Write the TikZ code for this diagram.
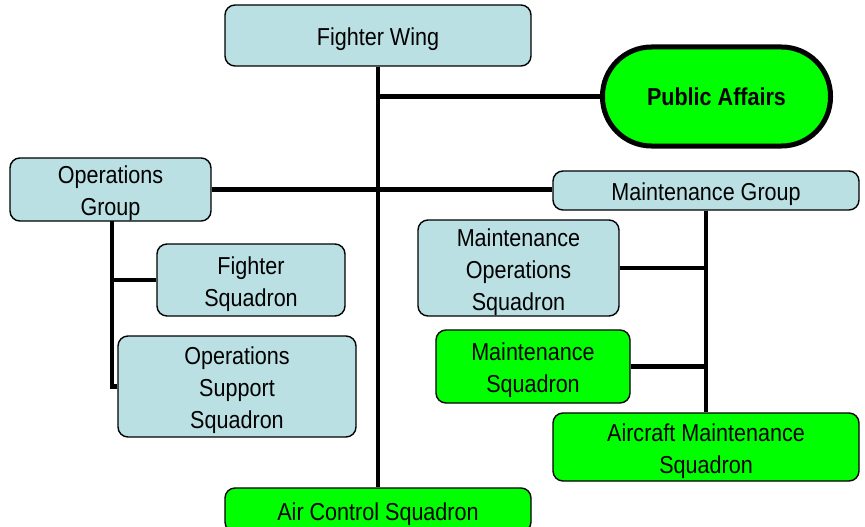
\documentclass[tikz,border=0pt]{standalone}
\usepackage{fontspec}
\setmainfont{Liberation Sans}[FakeStretch=0.88]
\definecolor{boxblue}{HTML}{BBE0E3}
\definecolor{boxgreen}{HTML}{00FF00}
\newcommand\topstrut{\rule{0pt}{26pt}}
\begin{document}
\begin{tikzpicture}[x=1pt,y=-1pt,
  box/.style={draw=black, line width=1.4pt, rounded corners=10pt, fill=boxblue,
    align=center, inner sep=0pt, font=\fontsize{24.5}{32}\selectfont},
  gbox/.style={box, fill=boxgreen},
  link/.style={line width=4.5pt, black}]
\useasboundingbox (0,0) rectangle (865,527);
\clip (0,0) rectangle (865,527);
\node[box, minimum width=306pt, minimum height=61pt] (fw) at (378,35.5) {\topstrut Fighter Wing};
\node[draw=black, line width=5pt, fill=boxgreen, rounded corners=49pt, minimum width=228pt, minimum height=99pt,
  inner sep=0pt, font=\fontsize{24.5}{32}\selectfont\bfseries] (pa) at (716.5,96.5) {Public Affairs};
\node[box, minimum width=201pt, minimum height=63pt] (og) at (110.5,189.5) {\topstrut Operations\\Group};
\node[box, minimum width=306pt, minimum height=39pt] (mg) at (706,190.5) {\topstrut Maintenance Group};
\node[box, minimum width=188pt, minimum height=72pt] (fs) at (251,280) {\topstrut Fighter\\Squadron};
\node[box, minimum width=238pt, minimum height=101pt] (oss) at (237,386.5) {\topstrut Operations\\Support\\Squadron};
\node[box, minimum width=201pt, minimum height=96pt] (mos) at (518.5,268) {\topstrut Maintenance\\Operations\\Squadron};
\node[gbox, minimum width=194pt, minimum height=73pt] (ms) at (533,366.5) {\topstrut Maintenance\\Squadron};
\node[gbox, minimum width=306pt, minimum height=68pt] (ams) at (706,447) {\topstrut Aircraft Maintenance\\Squadron};
\node[gbox, minimum width=306pt, minimum height=44pt] (acs) at (378,510) {\topstrut Air Control Squadron};
\coordinate (ogb) at (112,221);
% connectors
\draw[link] (fw.south) -- (acs.north);
\draw[link] (fw.south |- pa.west) -- (pa.west);
\draw[link, line width=4.3pt] (og.east) -- (og.east -| mg.west);
\draw[link] (ogb) |- (fs.west);
\draw[link] (ogb) |- (oss.west);
\draw[link] (mg.south) -- (ams.north);
\draw[link] (mos.east) -- (mos.east -| mg.south);
\draw[link] (ms.east) -- (ms.east -| mg.south);
\end{tikzpicture}
\end{document}
